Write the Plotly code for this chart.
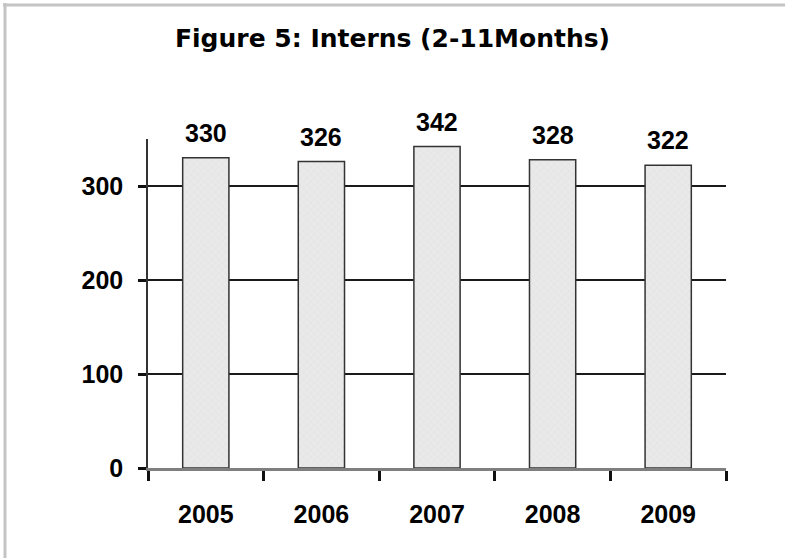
import plotly.graph_objects as go

YEARS = ["2005", "2006", "2007", "2008", "2009"]
INTERNS = [330, 326, 342, 328, 322]
Y_TICKS = [0, 100, 200, 300]

FONT = "Liberation Sans"
TITLE_FONT = "DejaVu Sans"
BAR_FILL = "#e9e9e9"
BAR_LINE = "#333333"
FRAME = "#c4c4c4"

W, H = 785, 558
L, R, T, B = 148, 59, 139, 90
PW, PH = W - L - R, H - T - B


def px_x(p):
    return (p - L) / PW


def px_y(p):
    return (H - B - p) / PH


fig = go.Figure()

fig.add_trace(
    go.Bar(
        x=YEARS,
        y=INTERNS,
        width=0.40,
        marker=dict(
            color=BAR_FILL,
            line=dict(color=BAR_LINE, width=1.5),
            pattern=dict(shape="x", size=5, solidity=0.15,
                         fgcolor="#cfcfcf", bgcolor=BAR_FILL),
        ),
    )
)

# value labels above the bars (x as category index, since the
# year strings would be read as indices on a category axis)
for i, val in enumerate(INTERNS):
    fig.add_annotation(
        x=i, y=val, text=f"<b>{val}</b>",
        showarrow=False, yanchor="bottom", yshift=9,
        font=dict(family=FONT, size=25, color="#000000"),
    )

fig.update_layout(
    width=W,
    height=H,
    paper_bgcolor="#ffffff",
    plot_bgcolor="#ffffff",
    showlegend=False,
    font=dict(family=FONT, color="#000000"),
    title=dict(
        text="<b>Figure 5: Interns (2-11Months)</b>",
        x=0.5,
        xanchor="center",
        y=1 - 38 / H,
        yanchor="middle",
        font=dict(family=TITLE_FONT, size=25, color="#000000"),
    ),
    margin=dict(l=L, r=R, t=T, b=B, autoexpand=False),
    shapes=[
        dict(type="line", xref="paper", yref="paper",
             x0=px_x(3), x1=px_x(W), y0=px_y(5), y1=px_y(5),
             line=dict(color=FRAME, width=3)),
        dict(type="line", xref="paper", yref="paper",
             x0=px_x(5), x1=px_x(5), y0=px_y(3), y1=px_y(H),
             line=dict(color=FRAME, width=3)),
    ],
)

fig.update_xaxes(
    type="category",
    range=[-0.5, len(YEARS) - 0.5],
    tickson="boundaries",
    ticks="outside",
    ticklen=10,
    tickwidth=3,
    tickcolor="#111111",
    showline=True,
    linecolor="#7f7f7f",
    linewidth=3,
    showgrid=False,
    tickvals=YEARS,
    ticktext=[f"<b>{y}</b>" for y in YEARS],
    tickangle=0,
    tickfont=dict(family=FONT, size=25, color="#000000"),
    ticklabelstandoff=22,
)

fig.update_yaxes(
    range=[0, 350],
    tickvals=Y_TICKS,
    ticktext=[f"<b>{v}</b>" for v in Y_TICKS],
    ticks="outside",
    ticklen=8,
    tickwidth=3,
    tickcolor="#111111",
    showline=True,
    linecolor="#333333",
    linewidth=1.5,
    showgrid=True,
    gridcolor="#1a1a1a",
    gridwidth=2,
    zeroline=False,
    tickfont=dict(family=FONT, size=25, color="#000000"),
    ticklabelstandoff=10,
)

fig.write_html(
    "out.html",
    config={"displayModeBar": False},
    post_script="document.body.style.margin='0';",
)
